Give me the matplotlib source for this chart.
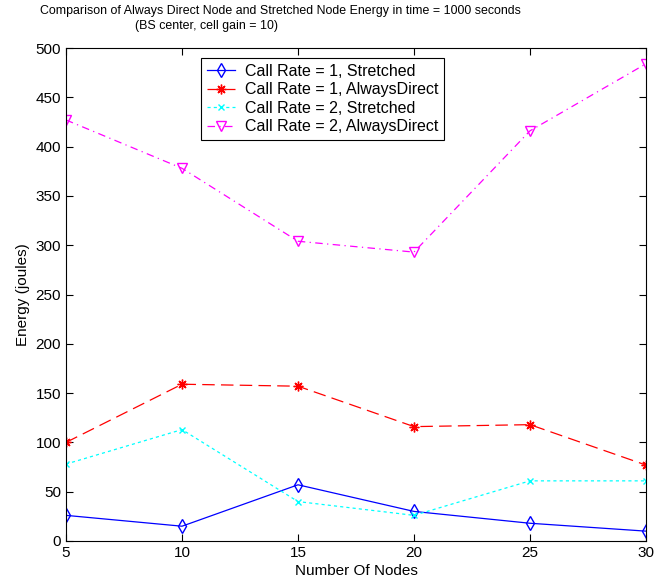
import matplotlib.pyplot as plt

plt.rcParams['font.family'] = ['Liberation Sans', 'DejaVu Sans']

# Datos
nodos = [5, 10, 15, 20, 25, 30]
cr1_stretched = [26, 15, 57, 30, 18, 10]
cr1_direct = [100, 159, 157, 116, 118, 77]
cr2_stretched = [78, 113, 40, 26, 61, 61]
cr2_direct = [427, 378, 304, 293, 416, 484]

etiquetas = ['Call Rate = 1, Stretched', 'Call Rate = 1, AlwaysDirect',
             'Call Rate = 2, Stretched', 'Call Rate = 2, AlwaysDirect']

fig = plt.figure(figsize=(6.65, 5.88), dpi=100)
ax = fig.add_axes([66 / 665, 47 / 588, 580 / 665, 493 / 588])

ax.plot(nodos, cr1_stretched, color='blue', linestyle='-', linewidth=0.9,
        marker='d', markersize=7, mfc='none', mec='blue', label=etiquetas[0])
ax.plot(nodos, cr1_direct, color='red', linestyle=(0, (10, 5)), linewidth=0.9,
        marker=(8, 2, 0), markersize=7, mec='red', mew=1.0, label=etiquetas[1])
ax.plot(nodos, cr2_stretched, color='cyan', linestyle=(0, (2.5, 2.5)), linewidth=0.9,
        marker='x', markersize=5, mec='cyan', label=etiquetas[2])
ax.plot(nodos, cr2_direct, color='magenta', linestyle=(0, (6, 3.5, 1, 3.5)), linewidth=0.9,
        marker='v', markersize=7.5, mfc='none', mec='magenta', label=etiquetas[3])

ax.set_xlim(5, 30)
ax.set_ylim(0, 500)
ax.set_xticks(nodos)
ax.set_yticks(range(0, 501, 50))
ax.tick_params(direction='in', top=True, right=True, labelsize=11, length=5, width=0.8)
for s in ax.spines.values():
    s.set_linewidth(0.8)

ax.set_xlabel('Number Of Nodes', fontsize=11, labelpad=3)
ax.set_ylabel('Energy (joules)', fontsize=11, labelpad=4)

fig.text(40 / 665, 1 - 5 / 588, 'Comparison of Always Direct Node and Stretched Node Energy in time = 1000 seconds',
         fontsize=8.9, ha='left', va='top')
fig.text(135 / 665, 1 - 20 / 588, '(BS center, cell gain = 10)', fontsize=8.9, ha='left', va='top')

leg = ax.legend(loc='upper left', bbox_to_anchor=((201 - 66) / 580, (541 - 58) / 493),
                fontsize=11.5, frameon=True, fancybox=False, framealpha=1,
                edgecolor='black', borderpad=0.35, labelspacing=0.22, handlelength=1.8,
                handletextpad=0.6, borderaxespad=0)
leg.get_frame().set_linewidth(0.8)

fig.savefig('out.png', dpi=100)
